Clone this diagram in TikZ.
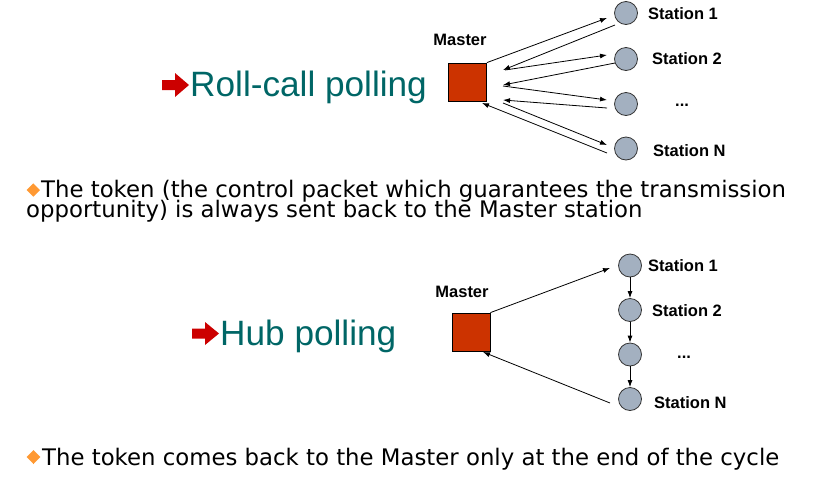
\documentclass[tikz,border=0pt]{standalone}
\usepackage{fontspec}
\usetikzlibrary{arrows.meta}
\newfontfamily\arialf{Liberation Sans}
\newfontfamily\bodyf{DejaVu Sans}
\definecolor{teal1}{RGB}{0,102,102}
\definecolor{mred}{RGB}{204,51,0}
\definecolor{ared}{RGB}{204,0,0}
\definecolor{stgray}{RGB}{163,176,192}
\definecolor{bullet}{RGB}{255,153,51}
\tikzset{
  master/.style={draw=black, line width=0.8pt, fill=mred, minimum size=38pt, inner sep=0pt},
  stn/.style={circle, draw=black!80, line width=0.8pt, fill=stgray, minimum size=23pt, inner sep=0pt},
  lbl/.style={font=\arialf\bfseries\fontsize{16.5}{18}\selectfont, inner sep=0pt},
  title/.style={font=\arialf\fontsize{35.2}{37}\selectfont, text=teal1, inner sep=0pt, anchor=base west},
  body/.style={font=\bodyf\fontsize{22.8}{20}\selectfont, inner sep=0pt, anchor=base west},
  conn/.style={line width=0.8pt, -{Latex[length=7pt,width=5pt]}},
  diam/.style={fill=bullet},
  redarr/.style={fill=ared}
}
\begin{document}
\begin{tikzpicture}[x=1pt,y=-1pt]
\useasboundingbox (0,0) rectangle (821,477);
% ---------- Roll-call polling ----------
\fill[redarr] (162,80) -- (175,80) -- (175,73) -- (189,85) -- (175,97) -- (175,90) -- (162,90) -- cycle;
\node[title] (t1) at (190,96) {Roll-call polling};
\node[master] (m1) at (467.5,82) {};
\node[lbl] (ml1) at (460,40) {Master};
\node[stn] (a1) at (626,13) {};
\node[stn] (a2) at (626,59) {};
\node[stn] (a3) at (626,104) {};
\node[stn] (a4) at (626,148.5) {};
\node[lbl, anchor=west] (la1) at (648,14) {Station 1};
\node[lbl, anchor=west] (la2) at (652,59) {Station 2};
\node[lbl, anchor=base west] (la3) at (675,106) {...};
\node[lbl, anchor=west] (la4) at (653,151) {Station N};
\coordinate (a1in) at (607,18);
\coordinate (a1out) at (615,25);
\coordinate (a2in) at (607,55);
\coordinate (a2out) at (615,63);
\coordinate (a3in) at (607,100);
\coordinate (a3out) at (607,108);
\coordinate (a4in) at (607,145);
\coordinate (a4out) at (607,153);
\coordinate (r1) at (503,70);
\coordinate (s2) at (505,70);
\coordinate (r2) at (503,85);
\coordinate (s3) at (503,86);
\coordinate (r3) at (503,100);
\coordinate (s4) at (503,103);
\coordinate (r4) at (482,103);
\draw[conn] (m1.north east) -- (a1in);
\draw[conn] (a1out) -- (r1);
\draw[conn] (s2) -- (a2in);
\draw[conn] (a2out) -- (r2);
\draw[conn] (s3) -- (a3in);
\draw[conn] (a3out) -- (r3);
\draw[conn] (s4) -- (a4in);
\draw[conn] (a4out) -- (r4);
% ---------- text 1 ----------
\fill[diam] (33.3,183.3) -- (40,190) -- (33.3,196.7) -- (26.6,190) -- cycle;
\node[body, text depth=3pt] (b1) at (41,197) {The token (the control packet which guarantees the transmission};
\node[body, text height=15pt] (b2) at (26,217) {opportunity) is always sent back to the Master station};
% ---------- Hub polling ----------
\fill[redarr] (192,328.5) -- (205,328.5) -- (205,322) -- (219,333.5) -- (205,345) -- (205,338.5) -- (192,338.5) -- cycle;
\node[title] (t2) at (220,345) {Hub polling};
\node[master] (m2) at (471,332) {};
\node[lbl] (ml2) at (462,292) {Master};
\node[stn] (c1) at (630,265.5) {};
\node[stn] (c2) at (630,310) {};
\node[stn] (c3) at (630,354.5) {};
\node[stn] (c4) at (630,399) {};
\node[lbl, anchor=west] (lc1) at (648,266) {Station 1};
\node[lbl, anchor=west] (lc2) at (652,311) {Station 2};
\node[lbl, anchor=base west] (lc3) at (677,358) {...};
\node[lbl, anchor=west] (lc4) at (654,403) {Station N};
\coordinate (c1in) at (610,268);
\coordinate (c4out) at (610,403);
\coordinate (m2in) at (483,352);
\draw[conn] (m2.north east) -- (c1in);
\draw[conn] (c1.south) -- (c2.north);
\draw[conn] (c2.south) -- (c3.north);
\draw[conn] (c3.south) -- (c4.north);
\draw[conn] (c4out) -- (m2in);
% ---------- text 2 ----------
\fill[diam] (33.5,450) -- (40.3,457) -- (33.5,464) -- (26.7,457) -- cycle;
\node[body] (b3) at (42,465) {The token comes back to the Master only at the end of the cycle};
\end{tikzpicture}
\end{document}
